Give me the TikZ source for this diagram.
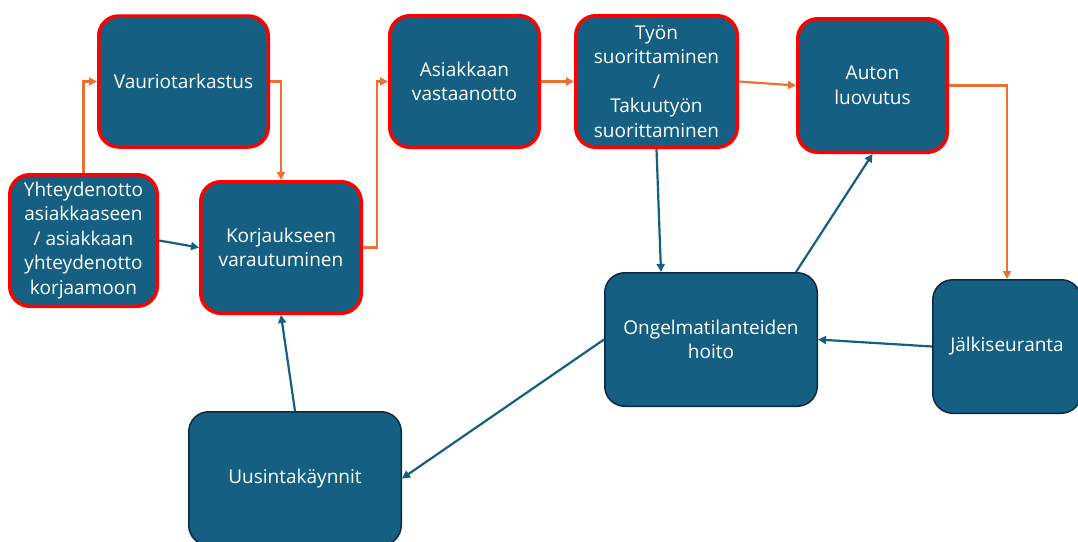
\documentclass[tikz,border=0pt]{standalone}
\usepackage{fontspec}
\setmainfont{Open Sans}
\usetikzlibrary{arrows.meta,calc}
\definecolor{boxfill}{HTML}{156082}
\definecolor{boxline}{HTML}{0E2841}
\definecolor{hotred}{HTML}{FF0000}
\definecolor{flow}{HTML}{E97132}
\begin{document}
\begin{tikzpicture}[x=1pt,y=-1pt,
  base/.style={rectangle,rounded corners=20pt,fill=boxfill,text=white,align=center,
    font=\fontsize{19}{24.5}\selectfont,inner sep=2pt},
  redbox/.style={base,draw=hotred,line width=3.5pt},
  darkbox/.style={base,draw=boxline,line width=1.5pt},
  orangearrow/.style={draw=flow,line width=2.2pt,-{Triangle[length=8pt,width=8pt]}},
  bluearrow/.style={draw=boxfill,line width=2.2pt,-{Triangle[length=8pt,width=8pt]}}]
\useasboundingbox (0,0) rectangle (1078,541);
\clip (0,0) rectangle (1078,541);
\node[redbox,minimum width=169.5pt,minimum height=131pt] (vaur) at (183.5,81.5) {Vauriotarkastus};
\node[redbox,minimum width=147.5pt,minimum height=131.5pt] (yht) at (83.5,240.5) {Yhteydenotto\\asiakkaaseen\\/ asiakkaan\\yhteydenotto\\korjaamoon};
\node[redbox,minimum width=160.5pt,minimum height=131.5pt] (korj) at (281,247.5) {Korjaukseen\\varautuminen};
\node[redbox,minimum width=149.5pt,minimum height=131.5pt] (asiak) at (464.5,81.5) {Asiakkaan\\vastaanotto};
\node[redbox,minimum width=161.5pt,minimum height=131.5pt] (tyon) at (656.5,81.5) {Työn\\suorittaminen\\/\\Takuutyön\\suorittaminen};
\node[redbox,minimum width=149.5pt,minimum height=133.5pt] (auton) at (872.5,85.5) {Auton\\luovutus};
\node[darkbox,minimum width=212.5pt,minimum height=133.5pt] (ong) at (711,339.5) {Ongelmatilanteiden\\hoito};
\node[darkbox,minimum width=148.5pt,minimum height=133.5pt] (jalk) at (1007,346.5) {Jälkiseuranta};
\node[darkbox,minimum width=212.5pt,minimum height=133.5pt] (uus) at (295,478.5) {Uusintakäynnit};
% orange flow
\draw[orangearrow] (yht.north) |- (vaur.west);
\draw[orangearrow] (vaur.east) -| (korj.north);
\draw[orangearrow] (korj.east) -- ++(14,0) |- (asiak.west);
\draw[orangearrow] (asiak.east) -- (tyon.west);
\draw[orangearrow] (tyon.east) -- (auton.west);
\draw[orangearrow] (auton.east) -| (jalk.north);
% blue connectors
\draw[bluearrow] (yht.east) -- (korj.west);
\draw[bluearrow] (tyon.south) -- ([xshift=-50pt]ong.north);
\draw[bluearrow] ([xshift=85pt]ong.north) -- (auton.south);
\draw[bluearrow] (jalk.west) -- (ong.east);
\draw[bluearrow] (ong.west) -- (uus.east);
\draw[bluearrow] (uus.north) -- (korj.south);
\end{tikzpicture}
\end{document}
